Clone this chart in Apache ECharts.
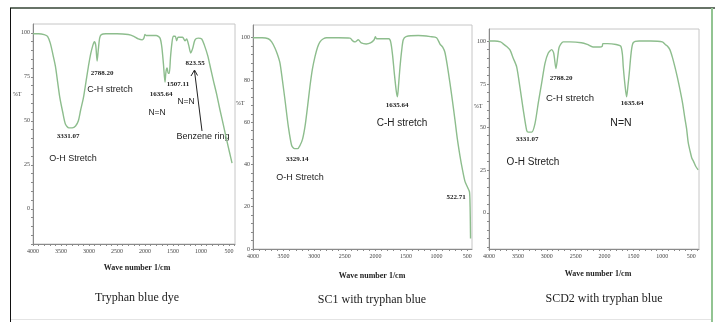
<!DOCTYPE html>
<html>
<head>
<meta charset="utf-8">
<script src="https://cdn.jsdelivr.net/npm/echarts@6/dist/echarts.min.js"></script>
<style>
  html, body { margin: 0; padding: 0; background: #fff; }
  #chart { width: 715px; height: 322px; }
</style>
</head>
<body>
<div id="chart"></div>
<script>
// FTIR spectra, [wave number 1/cm, %T]
const dyeSpectrum = [
  [4000, 99.5], [3900, 99.5], [3800, 99], [3740, 98], [3690, 94], [3640, 87], [3600, 81],
  [3560, 72], [3520, 63], [3470, 55], [3420, 48], [3360, 46], [3300, 46], [3240, 47],
  [3190, 50], [3150, 56], [3100, 63], [3050, 73], [3010, 81], [2970, 88], [2930, 93],
  [2905, 95], [2880, 93], [2855, 84], [2835, 90], [2810, 97], [2780, 99], [2700, 99.5],
  [2500, 99.5], [2300, 99], [2200, 98], [2120, 96.5], [2050, 96], [2020, 97], [2000, 99],
  [1980, 98.5], [1900, 98.5], [1800, 98.5], [1732, 97], [1700, 92], [1670, 82], [1643, 72],
  [1625, 78], [1605, 80], [1585, 77], [1566, 77], [1545, 86], [1520, 94], [1495, 98],
  [1460, 98], [1434, 95.5], [1410, 97.5], [1330, 97.5], [1286, 95.5], [1256, 96.5],
  [1220, 93], [1184, 88.5], [1150, 91], [1107, 96], [1050, 97], [987, 96.5], [940, 93],
  [880, 87], [830, 80], [780, 73], [720, 65], [660, 56], [600, 47.5], [541, 39], [490, 32],
  [446, 26]
];
const sc1Spectrum = [
  [4000, 100], [3850, 100], [3750, 99.5], [3695, 98], [3640, 95], [3600, 92], [3559, 88],
  [3520, 80], [3477, 70.5], [3423, 58], [3368, 49], [3320, 47.5], [3270, 47.5], [3232, 49],
  [3190, 52], [3150, 58], [3110, 67], [3069, 77], [3030, 85], [2987, 91], [2945, 95.5],
  [2905, 98], [2850, 99.5], [2796, 100], [2600, 100], [2415, 99.8], [2370, 98.5], [2330, 98],
  [2280, 99], [2230, 97.5], [2150, 97], [2080, 97.5], [2020, 99], [2000, 100.5], [1980, 99.5],
  [1900, 99.5], [1780, 99.5], [1750, 98], [1720, 92], [1690, 83], [1660, 75], [1640, 72],
  [1620, 78], [1598, 86], [1570, 94], [1544, 99], [1500, 100.5], [1300, 101], [1100, 100.5],
  [1000, 100], [944, 97], [900, 95.5], [863, 93], [820, 86], [781, 78.5], [740, 70],
  [699, 61], [660, 52], [617, 44], [580, 38], [536, 32], [490, 29], [462, 27], [452, 20],
  [447, 10], [445, 5]
];
const scd2Spectrum = [
  [4000, 100], [3900, 100], [3800, 99.5], [3760, 98.5], [3700, 97], [3637, 94.8], [3580, 90],
  [3521, 85], [3464, 73], [3407, 60], [3348, 48], [3320, 47], [3261, 47], [3204, 52],
  [3147, 64], [3088, 75.6], [3031, 87], [2974, 93], [2915, 95], [2880, 93], [2841, 84],
  [2810, 91], [2784, 96.5], [2715, 99.5], [2600, 99.5], [2400, 99], [2300, 98], [2200, 96.5],
  [2080, 96.5], [2040, 97], [2030, 98.5], [2000, 98.5], [1950, 98.5], [1800, 98], [1720, 97],
  [1690, 92], [1676, 85], [1645, 74], [1618, 67.5], [1595, 74], [1573, 81], [1540, 93],
  [1504, 99], [1400, 100], [1200, 100], [1000, 99.5], [950, 98], [910, 97], [869, 95],
  [825, 90.5], [782, 85], [740, 79], [696, 72], [650, 64], [609, 55], [580, 49], [552, 41],
  [520, 36], [490, 32], [460, 30], [420, 27], [380, 25]
];

const panelTitles = ['Tryphan blue dye', 'SC1 with tryphan blue', 'SCD2 with tryphan blue'];
const xTickLabels = [500, 1000, 1500, 2000, 2500, 3000, 3500, 4000];
const yTickLabels25 = [0, 25, 50, 75, 100];
const yTickLabels20 = [0, 20, 40, 60, 80, 100];

// layout of the three panels (pixels)
const panels = [
  { left: 33, top: 24, width: 202, height: 220, xMin: 393, yMin: -20, yMax: 105, yTicks: yTickLabels25, yStep: 5, data: dyeSpectrum },
  { left: 253, top: 25, width: 219, height: 224, xMin: 421, yMin: 0, yMax: 106, yTicks: yTickLabels20, yStep: 4, data: sc1Spectrum },
  { left: 489, top: 29, width: 210, height: 220, xMin: 365, yMin: -21, yMax: 107, yTicks: yTickLabels25, yStep: 5, data: scd2Spectrum }
];

const axisGrey = '#8a8a8a';
const lineGreen = '#8dbd8d';
const serif = '"Liberation Serif", "DejaVu Serif", serif';
const sans = '"Liberation Sans", Arial, sans-serif';

function range(from, to, step) {
  const out = [];
  for (let v = from; v <= to; v += step) out.push(v);
  return out;
}

const grids = [], xAxes = [], yAxes = [], series = [];
panels.forEach((p, i) => {
  grids.push({ left: p.left, top: p.top, width: p.width, height: p.height,
    show: true, borderColor: '#c6c6c6', borderWidth: 1, containLabel: false });
  xAxes.push({
    type: 'value', gridIndex: i, inverse: true, min: p.xMin, max: 4000,
    axisLine: { show: true, onZero: false, lineStyle: { color: axisGrey, width: 1 } },
    axisTick: { show: true, length: 2, customValues: range(Math.ceil(p.xMin / 100) * 100, 4000, 100), lineStyle: { color: axisGrey } },
    axisLabel: { customValues: xTickLabels, formatter: v => String(v), fontSize: 6, fontFamily: serif, color: '#444', margin: 4 },
    splitLine: { show: false }
  });
  yAxes.push({
    type: 'value', gridIndex: i, min: p.yMin, max: p.yMax,
    axisLine: { show: true, onZero: false, lineStyle: { color: axisGrey, width: 1 } },
    axisTick: { show: true, length: 2, customValues: range(Math.ceil(p.yMin / p.yStep) * p.yStep, 100, p.yStep), lineStyle: { color: axisGrey } },
    axisLabel: { customValues: p.yTicks, formatter: v => String(v), fontSize: 6, fontFamily: serif, color: '#444', margin: 3 },
    splitLine: { show: false }
  });
  series.push({
    type: 'line', xAxisIndex: i, yAxisIndex: i, data: p.data,
    showSymbol: false, smooth: 0.25, animation: false,
    lineStyle: { color: lineGreen, width: 1.4 }
  });
});

// peak labels and band assignments
const annotations = [
  { t: '3331.07', x: 68, y: 136, num: true },
  { t: 'O-H Stretch', x: 73, y: 159, s: 9 },
  { t: '2788.20', x: 102, y: 73, num: true },
  { t: 'C-H stretch', x: 110, y: 90, s: 9 },
  { t: '1635.64', x: 161, y: 94, num: true },
  { t: 'N=N', x: 157, y: 113, s: 8.5 },
  { t: '1507.11', x: 178, y: 84, num: true },
  { t: 'N=N', x: 186, y: 102, s: 8.5 },
  { t: '823.55', x: 195, y: 63, num: true },
  { t: 'Benzene ring', x: 203, y: 137, s: 9 },

  { t: '3329.14', x: 297, y: 159, num: true },
  { t: 'O-H Stretch', x: 300, y: 178, s: 9 },
  { t: '1635.64', x: 397, y: 105, num: true },
  { t: 'C-H stretch', x: 402, y: 123, s: 10 },
  { t: '522.71', x: 456, y: 197, num: true },

  { t: '2788.20', x: 561, y: 78, num: true },
  { t: 'C-H stretch', x: 570, y: 98, s: 9.5 },
  { t: '1635.64', x: 632, y: 103, num: true },
  { t: 'N=N', x: 621, y: 123, s: 10.5 },
  { t: '3331.07', x: 527, y: 139, num: true },
  { t: 'O-H Stretch', x: 533, y: 162, s: 10 }
];

const graphic = [];
annotations.forEach(a => {
  graphic.push({
    type: 'text', x: a.x, y: a.y, silent: true,
    style: {
      text: a.t, align: 'center', verticalAlign: 'middle', fill: '#222',
      font: a.num ? 'bold 7px ' + serif : a.s + 'px ' + sans
    }
  });
});

// %T, axis titles and captions
const yNamePos = [[17, 94], [240, 103], [478, 106]];
const xNamePos = [[137, 268], [372, 276], [598, 274]];
const captionPos = [[137, 298], [372, 300], [604, 299]];
panels.forEach((p, i) => {
  graphic.push({ type: 'text', x: yNamePos[i][0], y: yNamePos[i][1], silent: true,
    style: { text: '%T', align: 'center', verticalAlign: 'middle', fill: '#444', font: '6px ' + serif } });
  graphic.push({ type: 'text', x: xNamePos[i][0], y: xNamePos[i][1], silent: true,
    style: { text: 'Wave number 1/cm', align: 'center', verticalAlign: 'middle', fill: '#222', font: 'bold 8px ' + serif } });
  graphic.push({ type: 'text', x: captionPos[i][0], y: captionPos[i][1], silent: true,
    style: { text: panelTitles[i], align: 'center', verticalAlign: 'middle', fill: '#222', font: '12px ' + serif } });
});

// arrow pointing at the benzene ring band
graphic.push({ type: 'line', silent: true, shape: { x1: 202, y1: 131, x2: 194.5, y2: 71 }, style: { stroke: '#222', lineWidth: 1 } });
graphic.push({ type: 'polyline', silent: true, shape: { points: [[191, 76], [194.5, 70], [197.5, 75.5]] }, style: { stroke: '#222', lineWidth: 1, fill: null } });

// outer frame of the figure
graphic.push({ type: 'line', silent: true, shape: { x1: 10, y1: 8, x2: 715, y2: 8 }, style: { stroke: '#344434', lineWidth: 1.5 } });
graphic.push({ type: 'line', silent: true, shape: { x1: 10.5, y1: 8, x2: 10.5, y2: 322 }, style: { stroke: '#111', lineWidth: 1 } });
graphic.push({ type: 'line', silent: true, shape: { x1: 712, y1: 8, x2: 712, y2: 322 }, style: { stroke: '#92c492', lineWidth: 2 } });
graphic.push({ type: 'line', silent: true, shape: { x1: 11, y1: 319.5, x2: 711, y2: 319.5 }, style: { stroke: '#e4e4e4', lineWidth: 1 } });

const chart = echarts.init(document.getElementById('chart'));
chart.setOption({
  backgroundColor: '#fff',
  animation: false,
  grid: grids,
  xAxis: xAxes,
  yAxis: yAxes,
  series: series,
  graphic: graphic
});
</script>
</body>
</html>
